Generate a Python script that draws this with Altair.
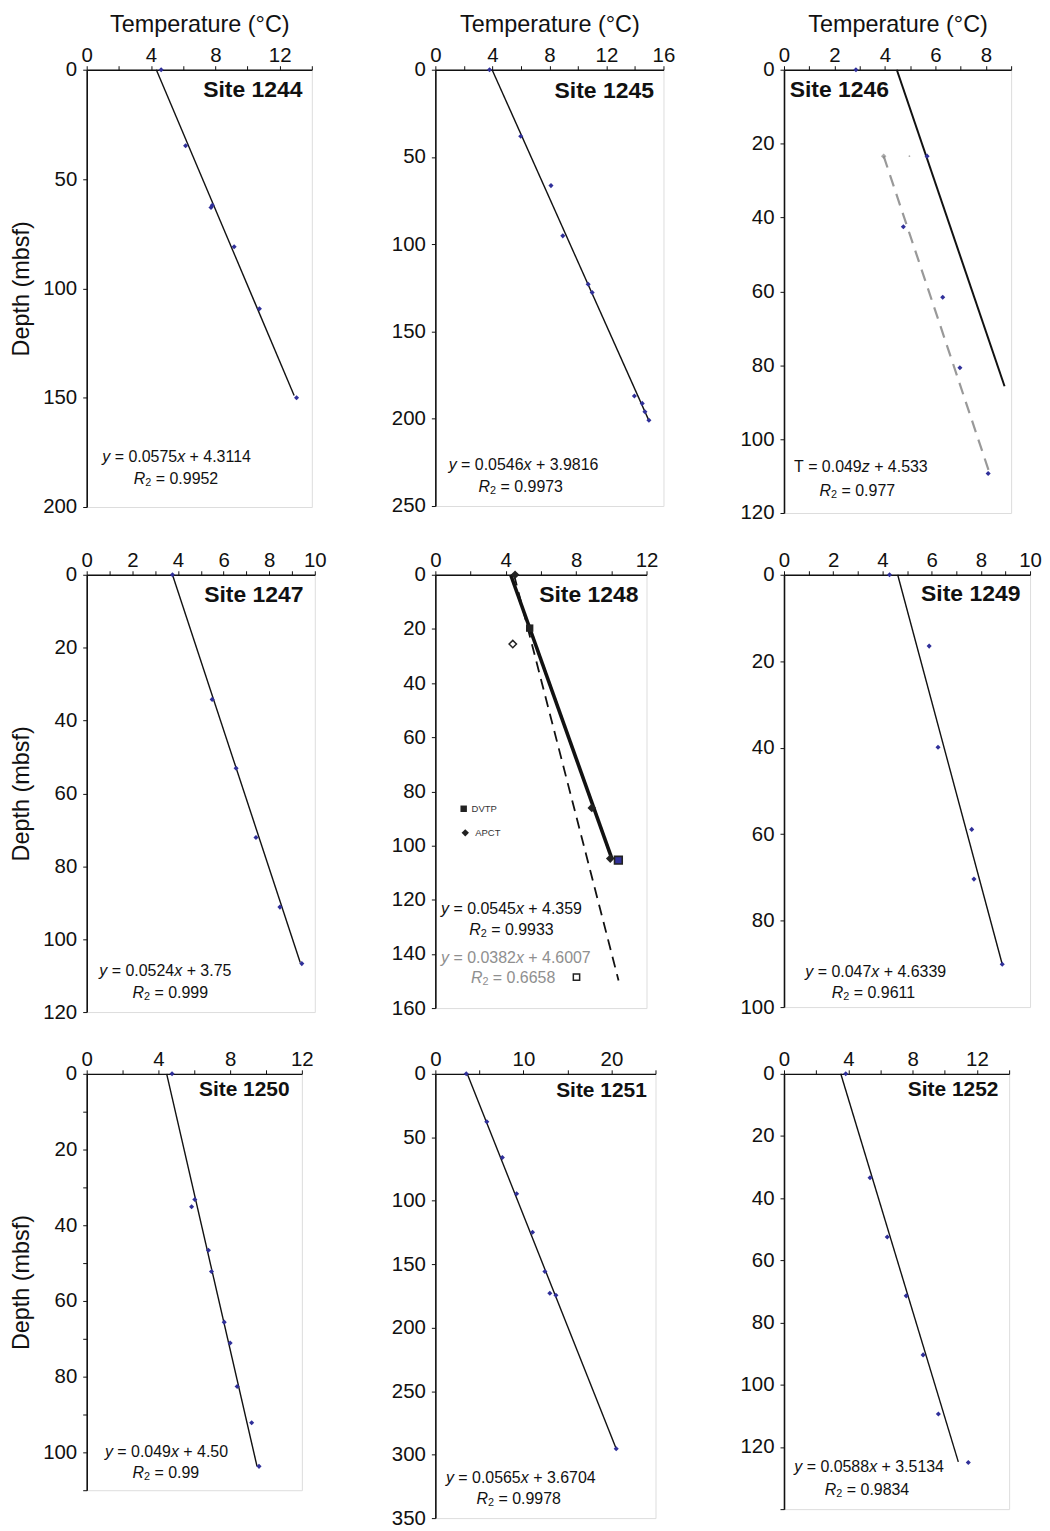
import altair as alt
import pandas as pd

FONT = "Liberation Sans"
BLUE = "#30309a"
BLACK = "#111111"
GRAY = "#8f8f8f"

# ---------------- data ----------------
# Site 1244
t1244 = [4.63, 6.15, 7.73, 7.81, 9.17, 10.74, 13.05]
d1244 = [0, 34.8, 63.0, 62.0, 81.0, 109.3, 150]
fit_t1244 = [4.33, 12.9]
fit_d1244 = [0, 149]
# Site 1245
t1245 = [3.80, 5.99, 8.11, 8.94, 10.72, 11.0, 13.96, 14.51, 14.7, 14.98]
d1245 = [0, 38.1, 66.4, 95.2, 122.9, 127.7, 187.0, 191.2, 196.0, 200.9]
fit_t1245 = [3.98, 14.95]
fit_d1245 = [0, 200.5]
# Site 1246
t1246 = [2.85, 5.67, 4.73, 6.29, 6.97, 8.09]
d1246 = [0, 23.4, 42.5, 61.6, 80.7, 109.3]
gray_t1246 = [3.95]
gray_d1246 = [23.4]
dot_t1246 = [4.97]
dot_d1246 = [23.4]
fit_t1246 = [4.47, 8.74]
fit_d1246 = [0, 85.7]
dash_t1246 = [3.95, 8.16]
dash_d1246 = [23.4, 109.5]
# Site 1247
t1247 = [3.76, 5.50, 6.55, 7.42, 8.47, 9.43]
d1247 = [0, 34.2, 53.1, 72.1, 91.2, 106.7]
fit_t1247 = [3.76, 9.36]
fit_d1247 = [0, 106.4]
# Site 1248
apct_t1248 = [4.53, 8.89, 9.94]
apct_d1248 = [0, 86.1, 104.8]
dvtp_t1248 = [5.36]
dvtp_d1248 = [19.7]
bluesq_t1248 = [10.40]
bluesq_d1248 = [105.4]
hdia_t1248 = [4.40]
hdia_d1248 = [25.6]
hsq_t1248 = [8.02]
hsq_d1248 = [148.6]
fit_t1248 = [4.28, 10.04]
fit_d1248 = [0, 105]
dash_t1248 = [4.47, 10.41]
dash_d1248 = [0, 149.8]
legend_t1248 = [1.61, 1.70]
legend_d1248 = [86.4, 95.3]
# Site 1249
t1249 = [4.29, 5.90, 6.26, 7.63, 7.72, 8.87]
d1249 = [0, 16.5, 39.9, 58.9, 70.4, 90.1]
fit_t1249 = [4.62, 8.87]
fit_d1249 = [0, 90.1]
# Site 1250
t1250 = [4.76, 6.03, 5.85, 6.79, 6.96, 7.67, 8.0, 8.39, 9.2, 9.61]
d1250 = [0, 33.2, 35.1, 46.6, 52.2, 65.6, 71.1, 82.6, 92.2, 103.7]
fit_t1250 = [4.46, 9.5]
fit_d1250 = [0, 103.7]
# Site 1251
t1251 = [3.51, 5.84, 7.61, 9.23, 11.04, 12.44, 13.0, 13.69, 20.54]
d1251 = [0, 37.7, 65.9, 94.5, 124.8, 155.7, 172.9, 174.5, 295.4]
fit_t1251 = [3.62, 20.54]
fit_d1251 = [0, 295.4]
# Site 1252
t1252 = [3.84, 5.35, 6.42, 7.60, 8.65, 9.60, 11.46]
d1252 = [0, 33.4, 52.5, 71.4, 90.4, 109.4, 125.0]
fit_t1252 = [3.53, 10.84]
fit_d1252 = [0, 124.8]

# ---------------- helpers ----------------
WID = {c: .556 for c in "0123456789"}
WID.update({'.': .278, ' ': .278, '=': .584, '+': .584, 'x': .5, 'y': .5,
            'z': .5, 'T': .611, 'R': .722})

LABEL_SIZE = 20.5
TITLE_SIZE = 23.5


def tw(s, size):
    return sum(WID.get(c, .556) for c in s) * size


def df(t, d):
    return pd.DataFrame({"T": t, "D": d})


def txt(text, x, y, size, italic=False, bold=False, align="left", color=BLACK):
    return alt.Chart(pd.DataFrame({"k": [0]})).mark_text(
        text=text, align=align, baseline="middle", font=FONT, fontSize=size,
        fontStyle="italic" if italic else "normal",
        fontWeight="bold" if bold else "normal", color=color
    ).encode(x=alt.value(x), y=alt.value(y))


def rich(parts, x0, y0, size, color=BLACK):
    out = []
    x = x0
    for text, style in parts:
        sz = size * 0.68 if style == "sub" else size
        stripped = text.lstrip(" ")
        x += tw(text[:len(text) - len(stripped)], sz)
        yy = y0 + 4 if style == "sub" else y0
        out.append(txt(stripped, x, yy, sz, italic=(style == "i"), color=color))
        x += tw(stripped, sz)
    return out


def eq_parts(slope, icpt, lhs="y", var="x"):
    lhs_style = "i" if lhs == "y" else "n"
    return [(lhs, lhs_style), (" = " + slope, "n"), (var, "i"), (" + " + icpt, "n")]


def r2_parts(val):
    return [("R", "i"), ("2", "sub"), (" = " + val, "n")]


def panel(xmax, xstep, xlab, ymax, yvals, ylabset, xtitle, ytitle, layers):
    xvals = []
    v = 0
    while v <= xmax + 1e-9:
        xvals.append(v)
        v += xstep
    xlab_expr = "indexof([" + ",".join(str(a) for a in xlab) + "], datum.value) >= 0 ? datum.label : ''"
    ylab_expr = "indexof([" + ",".join(str(a) for a in ylabset) + "], datum.value) >= 0 ? datum.label : ''"
    xkw = dict(orient="top", values=xvals, labelExpr=xlab_expr, tickSize=4,
               labelPadding=0, labelFontSize=LABEL_SIZE, labelFlush=False, labelOverlap=False,
               grid=False, domainColor=BLACK, domainWidth=1.4, tickColor=BLACK,
               labelColor=BLACK, titleFontSize=TITLE_SIZE, titleFontWeight="normal",
               titleColor=BLACK, titlePadding=9, titleFont=FONT, labelFont=FONT)
    xkw["title"] = "Temperature (°C)" if xtitle else None
    ykw = dict(orient="left", values=yvals, labelExpr=ylab_expr, tickSize=4,
               labelPadding=6, labelFontSize=LABEL_SIZE, labelFlush=False, labelOverlap=False,
               grid=False, domainColor=BLACK, domainWidth=1.6, tickColor=BLACK,
               labelColor=BLACK, titleFontSize=TITLE_SIZE, titleFontWeight="normal",
               titleColor=BLACK, titlePadding=9, titleFont=FONT, labelFont=FONT)
    ykw["title"] = "Depth (mbsf)" if ytitle else None
    X = alt.X("T:Q", scale=alt.Scale(domain=[0, xmax], nice=False, zero=False), axis=alt.Axis(**xkw))
    Y = alt.Y("D:Q", scale=alt.Scale(domain=[0, ymax], nice=False, reverse=True), axis=alt.Axis(**ykw))
    built = []
    for kind, data, opts in layers:
        if kind == "line":
            m = alt.Chart(data).mark_line(**opts).encode(x=X, y=Y, order="D:Q")
        else:
            m = alt.Chart(data).mark_point(**opts).encode(x=X, y=Y)
        built.append(m)
    return built


def blue_pts(t, d):
    return ("pt", df(t, d), dict(shape="diamond", filled=True, size=26, color=BLUE, opacity=1))


def fit_line(t, d, width=1.4, color=BLACK, dash=None):
    o = dict(color=color, strokeWidth=width)
    if dash:
        o["strokeDash"] = dash
    return ("line", df(t, d), o)


def site_label(text, x, y, size, align="right"):
    return txt(text, x, y, size, bold=True, align=align)


# ---------------- panels ----------------
EQ = 16

p1244 = panel(14, 2, [0, 4, 8, 12], 200, [0, 50, 100, 150, 200], [0, 50, 100, 150, 200], True, True,
              [fit_line(fit_t1244, fit_d1244), blue_pts(t1244, d1244)])
p1244 += [site_label("Site 1244", 216.7, 20, 23)]
p1244 += rich(eq_parts("0.0575", "4.3114"), 15.7, 389.3, EQ) + rich(r2_parts("0.9952"), 47.3, 411, EQ)

p1245 = panel(16, 2, [0, 4, 8, 12, 16], 250, [0, 50, 100, 150, 200, 250], [0, 50, 100, 150, 200, 250],
              True, False, [fit_line(fit_t1245, fit_d1245), blue_pts(t1245, d1245)])
p1245 += [site_label("Site 1245", 219.4, 21.7, 23)]
p1245 += rich(eq_parts("0.0546", "3.9816"), 13.4, 397, EQ) + rich(r2_parts("0.9973"), 43.4, 419.4, EQ)

p1246 = panel(9, 1, [0, 2, 4, 6, 8], 120, [0, 20, 40, 60, 80, 100, 120], [0, 20, 40, 60, 80, 100, 120],
              True, False,
              [fit_line(fit_t1246, fit_d1246, width=2.0),
               fit_line(dash_t1246, dash_d1246, width=2.2, color="#999999", dash=[12, 8]),
               ("pt", df(gray_t1246, gray_d1246), dict(shape="diamond", filled=True, size=30, color="#888888")),
               ("pt", df(dot_t1246, dot_d1246), dict(shape="circle", filled=True, size=3, color="#888888")),
               blue_pts(t1246, d1246)])
p1246 += [site_label("Site 1246", 5.7, 20, 23, align="left")]
p1246 += rich(eq_parts("0.049", "4.533", lhs="T", var="z"), 10, 399.3, EQ) + rich(r2_parts("0.977"), 35.7, 422.7, EQ)

p1247 = panel(10, 1, [0, 2, 4, 6, 8, 10], 120, [0, 20, 40, 60, 80, 100, 120], [0, 20, 40, 60, 80, 100, 120],
              False, True, [fit_line(fit_t1247, fit_d1247), blue_pts(t1247, d1247)])
p1247 += [site_label("Site 1247", 217.7, 20.6, 23)]
p1247 += rich(eq_parts("0.0524", "3.75"), 12.7, 397.6, EQ) + rich(r2_parts("0.999"), 46, 420, EQ)

p1248 = panel(12, 2, [0, 4, 8, 12], 160, [0, 20, 40, 60, 80, 100, 120, 140, 160],
              [0, 20, 40, 60, 80, 100, 120, 140, 160], False, False,
              [fit_line(dash_t1248, dash_d1248, width=1.8, dash=[11, 7]),
               fit_line(fit_t1248, fit_d1248, width=3.6),
               ("pt", df(apct_t1248, apct_d1248), dict(shape="diamond", filled=True, size=75, color="#222222", opacity=1)),
               ("pt", df(dvtp_t1248, dvtp_d1248), dict(shape="square", filled=True, size=55, color="#222222", opacity=1)),
               ("pt", df(bluesq_t1248, bluesq_d1248), dict(shape="square", filled=True, size=60, fill=BLUE, stroke="#222222", strokeWidth=1.6, opacity=1)),
               ("pt", df(hdia_t1248, hdia_d1248), dict(shape="diamond", filled=True, size=55, fill="white", stroke="#222222", strokeWidth=1.5, opacity=1)),
               ("pt", df(hsq_t1248, hsq_d1248), dict(shape="square", filled=True, size=40, fill="white", stroke="#222222", strokeWidth=1.5, opacity=1)),
               ("pt", df(legend_t1248[:1], legend_d1248[:1]), dict(shape="square", filled=True, size=42, color="#222222", opacity=1)),
               ("pt", df(legend_t1248[1:], legend_d1248[1:]), dict(shape="diamond", filled=True, size=55, color="#222222", opacity=1))])
p1248 += [site_label("Site 1248", 204, 20.3, 23)]
p1248 += [txt("DVTP", 36.4, 235, 9.5, color="#333333"), txt("APCT", 40, 259, 9.5, color="#333333")]
p1248 += rich(eq_parts("0.0545", "4.359"), 5.7, 335.7, EQ) + rich(r2_parts("0.9933"), 34, 356.7, EQ)
p1248 += rich(eq_parts("0.0382", "4.6007"), 5.7, 385, EQ, color=GRAY) + rich(r2_parts("0.6658"), 35.7, 405, EQ, color=GRAY)

p1249 = panel(10, 1, [0, 2, 4, 6, 8, 10], 100, [0, 20, 40, 60, 80, 100], [0, 20, 40, 60, 80, 100],
              False, False, [fit_line(fit_t1249, fit_d1249), blue_pts(t1249, d1249)])
p1249 += [site_label("Site 1249", 237.3, 19.6, 23)]
p1249 += rich(eq_parts("0.047", "4.6339"), 21.4, 398.3, EQ) + rich(r2_parts("0.9611"), 48, 420, EQ)

p1250 = panel(12, 2, [0, 4, 8, 12], 110, list(range(0, 111, 10)), [0, 20, 40, 60, 80, 100],
              False, True, [fit_line(fit_t1250, fit_d1250), blue_pts(t1250, d1250)])
p1250 += [site_label("Site 1250", 203.7, 16.7, 21)]
p1250 += rich(eq_parts("0.049", "4.50"), 18.3, 380, EQ) + rich(r2_parts("0.99"), 46, 401, EQ)

p1251 = panel(25, 5, [0, 10, 20], 350, [0, 50, 100, 150, 200, 250, 300, 350],
              [0, 50, 100, 150, 200, 250, 300, 350], False, False,
              [fit_line(fit_t1251, fit_d1251), blue_pts(t1251, d1251)])
p1251 += [site_label("Site 1251", 212.3, 17.3, 21)]
p1251 += rich(eq_parts("0.0565", "3.6704"), 10.6, 405.7, EQ) + rich(r2_parts("0.9978"), 41.3, 427.3, EQ)

p1252 = panel(14, 2, [0, 4, 8, 12], 140, [0, 20, 40, 60, 80, 100, 120, 140], [0, 20, 40, 60, 80, 100, 120],
              False, False, [fit_line(fit_t1252, fit_d1252), blue_pts(t1252, d1252)])
p1252 += [site_label("Site 1252", 215.3, 16, 21)]
p1252 += rich(eq_parts("0.0588", "3.5134"), 10.3, 395, EQ) + rich(r2_parts("0.9834"), 41, 417.7, EQ)

sizes = [(226, 439), (229, 438), (228, 445), (229, 439), (212, 435), (247, 434), (216, 418), (221, 446), (226, 437)]
panels = []
for layers, (w, h) in zip([p1244, p1245, p1246, p1247, p1248, p1249, p1250, p1251, p1252], sizes):
    panels.append(alt.layer(*layers).properties(width=w, height=h))

chart = alt.concat(*panels, columns=3, spacing={"row": 62, "column": 121}, bounds="flush", align="each").configure_view(
    stroke="#8a8a8a", strokeWidth=1.5
).configure(font=FONT, background="white").properties(padding={"left": 1, "top": 1, "right": 0, "bottom": 0})

chart.save("out.html", embed_options={"renderer": "svg", "actions": False})
